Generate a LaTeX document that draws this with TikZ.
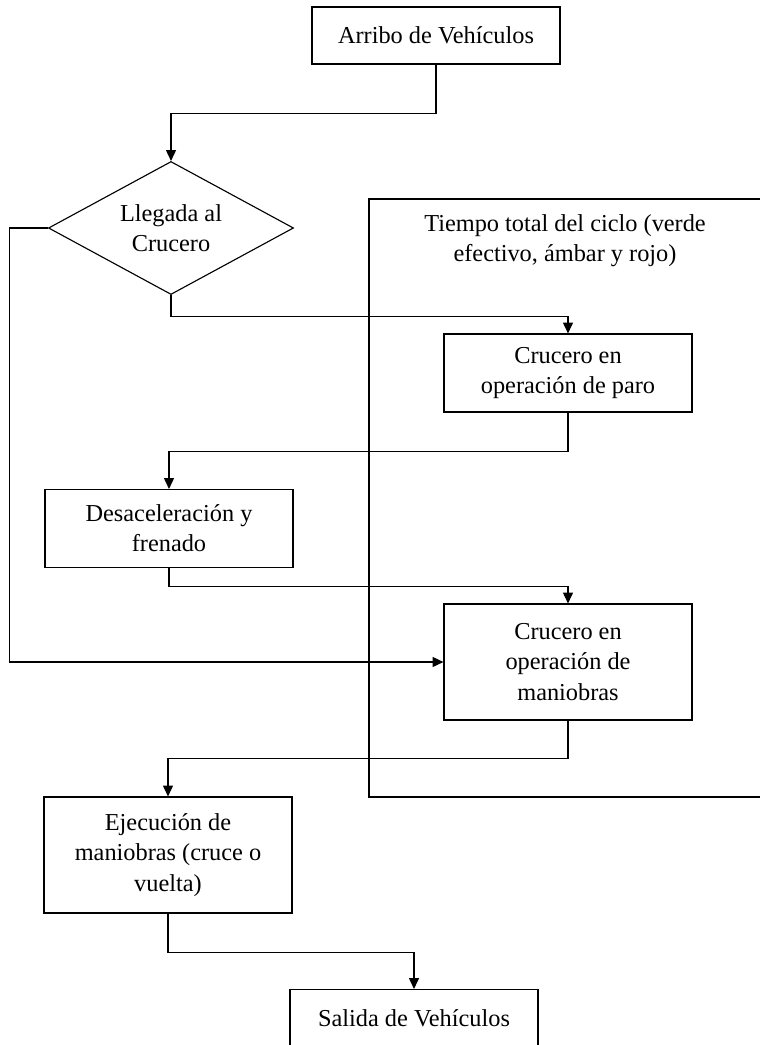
\documentclass[tikz,border=0pt]{standalone}
\usepackage{fontspec}
\setmainfont{Liberation Serif}
\usetikzlibrary{positioning,shapes.geometric,arrows.meta}

\begin{document}
\begin{tikzpicture}[
        x=0.025cm, y=-0.025cm,
        txt/.style={font=\fontsize{17.3}{21.5}\selectfont, align=center},
        box/.style={txt, draw, line width=0.8pt, inner sep=2pt,
                    minimum width=6.2cm, minimum height=1.425cm},
        tallbox/.style={box, minimum height=2.9cm},
        midbox/.style={box, minimum height=1.95cm},
        decision/.style={txt, diamond, draw, line width=0.8pt, inner sep=0pt,
                         aspect=1.84, minimum width=6.125cm, minimum height=3.325cm},
        arrow/.style={-{Triangle[length=0.27cm,width=0.25cm]}, line width=0.8pt},
      ]
        \useasboundingbox (0,0) rectangle (759,1045);
        % Marco del ciclo (abierto a la derecha)
        \draw[line width=0.8pt] (790,199) -- (369,199) -- (369,797) -- (790,797);
        \node[txt] (ciclo) at (565,241)
          {Tiempo total del ciclo (verde\\efectivo, ámbar y rojo)};
        % Entrada
        \node[box] (arribo) at (436,35.5) {Arribo de Vehículos};
        \node[decision] (llegada) at (171,228) {Llegada al\\Crucero};
        % Dentro del ciclo
        \node[midbox] (paro) at (568,373) {Crucero en\\operación de paro};
        \node[midbox] (desac) at (169,528.5) {Desaceleración y\\frenado};
        \node[tallbox] (maniobras) at (568,662)
          {Crucero en\\operación de\\maniobras};
        % Salida
        \node[tallbox] (ejecucion) at (168,855)
          {Ejecución de\\maniobras (cruce o\\vuelta)};
        \node[box] (salida) at (414,1018) {Salida de Vehículos};
        % Flechas
        \draw[arrow] (arribo.south) -- ++(0,49) -| (llegada.north);
        \draw[arrow] (llegada.west) -- ++(-38,0) |- (maniobras.west);
        \draw[arrow] (llegada.south) -- ++(0,21) -| (paro.north);
        \draw[arrow] (paro.south) -- ++(0,39) -| (desac.north);
        \draw[arrow] (desac.south) -- ++(0,18) -| (maniobras.north);
        \draw[arrow] (maniobras.south) -- ++(0,38) -| (ejecucion.north);
        \draw[arrow] (ejecucion.south) -- ++(0,39) -| (salida.north);
      \end{tikzpicture}
\end{document}
